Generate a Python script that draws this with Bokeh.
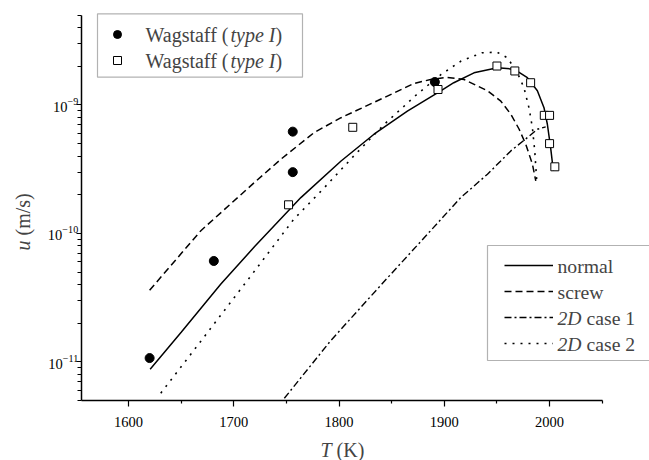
import math
from bokeh.plotting import figure
from bokeh.models import (Range1d, FixedTicker, Legend, LegendItem, Label,
                          BoxAnnotation)
from bokeh.core.properties import value
from bokeh.embed import file_html
from bokeh.resources import INLINE

# ---------------- data ----------------
# Wagstaff measurements (filled circles)
wag1_T = [1620, 1681, 1756, 1756, 1891]
wag1_u = [1.07e-11, 6.1e-11, 6.2e-10, 3.0e-10, 1.51e-9]
# Wagstaff measurements (open squares)
wag2_T = [1752, 1813, 1894, 1950, 1967, 1982, 1995, 2000, 2000, 2005]
wag2_u = [1.67e-10, 6.7e-10, 1.32e-9, 2.01e-9, 1.84e-9, 1.49e-9, 8.3e-10, 8.3e-10, 5.0e-10, 3.3e-10]

normal_T = [1620.5, 1650, 1687.7, 1720, 1763.7, 1801.9, 1833.2, 1864.9, 1896.6, 1909,
            1928.2, 1950.4, 1966.2, 1978.9, 1988.4, 1994.7, 1997.9, 2001, 2003.6]
normal_u = [8.77e-12, 1.70e-11, 4.03e-11, 7.94e-11, 1.90e-10, 3.66e-10, 5.92e-10, 8.97e-10,
            1.29e-9, 1.49e-9, 1.78e-9, 1.95e-9, 1.90e-9, 1.63e-9, 1.29e-9, 9.53e-10,
            7.08e-10, 4.66e-10, 3.06e-10]

screw_T = [1620, 1668.7, 1719.3, 1744.7, 1776.3, 1801.9, 1849.4, 1871.2, 1887, 1903, 1918.7,
           1941, 1953.7, 1963.2, 1971.1, 1977.4, 1983.7, 1986.9]
screw_u = [3.61e-11, 1.05e-10, 2.48e-10, 3.78e-10, 6.10e-10, 7.96e-10, 1.21e-9, 1.47e-9,
           1.58e-9, 1.64e-9, 1.58e-9, 1.29e-9, 1.07e-9, 8.47e-10, 6.47e-10, 4.94e-10,
           3.46e-10, 2.56e-10]

case1_T = [1748, 1792, 1840, 1887, 1915.6, 1941, 1963.2, 1978.9, 1988.4, 1996.3]
case1_u = [5.2e-12, 1.46e-11, 3.98e-11, 1.05e-10, 1.90e-10, 2.89e-10, 4.39e-10, 5.57e-10,
           6.47e-10, 6.75e-10]

case2_T = [1630.6, 1660, 1690, 1720, 1757, 1786, 1814, 1843, 1874, 1897, 1916, 1936, 1950,
           1960, 1969.4, 1975.7, 1980.4, 1983.7, 1985.9, 1987.8]
case2_u = [5.70e-12, 1.17e-11, 2.45e-11, 5.13e-11, 1.29e-10, 2.27e-10, 4.01e-10, 7.08e-10,
           1.21e-9, 1.73e-9, 2.20e-9, 2.55e-9, 2.58e-9, 2.33e-9, 1.78e-9, 1.36e-9,
           9.53e-10, 6.65e-10, 4.39e-10, 2.56e-10]

x_major = [1600, 1700, 1800, 1900, 2000]
x_minor = [1650, 1750, 1850, 1950, 2050]
y_major = [1e-11, 1e-10, 1e-9]
y_minor = [5e-12, 6e-12, 7e-12, 8e-12, 9e-12,
           2e-11, 3e-11, 4e-11, 5e-11, 6e-11, 7e-11, 8e-11, 9e-11,
           2e-10, 3e-10, 4e-10, 5e-10, 6e-10, 7e-10, 8e-10, 9e-10,
           2e-9, 3e-9, 4e-9, 5e-9]

x_axis_span = (1555, 2050)
y_axis_span = (5e-12, 5e-9)

legend1_label = ["Wagstaff (", "type I", ")"]
legend2_labels = ["normal", "screw", "case 1", "case 2"]
x_title = ["T", "(K)"]
y_title = ["u", "(m/s)"]

SERIF = "Liberation Serif"

# ---------------- layout (pixels) ----------------
W, H = 649, 460
AX_LEFT, AX_RIGHT = 80.7, 601.7      # pixel x of axis span ends
AX_BOTTOM, AX_TOP = 400.0, 14.7      # pixel y of axis span ends (from top)

kx = (AX_RIGHT - AX_LEFT) / (x_axis_span[1] - x_axis_span[0])
x_start = x_axis_span[0] - AX_LEFT / kx
x_end = x_axis_span[1] + (W - AX_RIGHT) / kx
ly0, ly1 = math.log10(y_axis_span[0]), math.log10(y_axis_span[1])
ky = (AX_BOTTOM - AX_TOP) / (ly1 - ly0)
y_start = 10 ** (ly0 - (H - AX_BOTTOM) / ky)
y_end = 10 ** (ly1 + AX_TOP / ky)

p = figure(width=W, height=H, output_backend="svg", toolbar_location=None,
           y_axis_type="log", x_range=Range1d(x_start, x_end), y_range=Range1d(y_start, y_end),
           min_border=0, title=None)
p.outline_line_color = None
p.xgrid.visible = False
p.ygrid.visible = False
p.background_fill_color = "white"
p.border_fill_color = "white"

p.xaxis.fixed_location = y_axis_span[0]
p.yaxis.fixed_location = x_axis_span[0]
p.xaxis.bounds = x_axis_span
p.yaxis.bounds = y_axis_span
p.xaxis.ticker = FixedTicker(ticks=x_major, minor_ticks=x_minor)
p.yaxis.ticker = FixedTicker(ticks=y_major, minor_ticks=y_minor)
for ax in (p.xaxis[0], p.yaxis[0]):
    ax.axis_line_color = "black"
    ax.axis_line_width = 1.5
    ax.major_tick_line_color = "black"
    ax.minor_tick_line_color = "black"
    ax.major_tick_line_width = 1.2
    ax.minor_tick_line_width = 1.2
    ax.major_tick_in = 0
    ax.minor_tick_in = 0
    ax.major_label_text_font = SERIF
    ax.major_label_text_font_size = "14.5px"
    ax.major_label_text_color = "black"
p.xaxis.major_tick_out = 6
p.xaxis.minor_tick_out = 3
p.yaxis.major_tick_out = 5
p.yaxis.minor_tick_out = 4
p.xaxis.major_label_standoff = 10
p.yaxis.major_label_standoff = -2

# curves
r_normal = p.line(normal_T, normal_u, line_color="black", line_width=1.5)
r_screw = p.line(screw_T, screw_u, line_color="black", line_width=1.5, line_dash="7 4")
r_case1 = p.line(case1_T, case1_u, line_color="black", line_width=1.4, line_dash="7 3 2 3")
r_case2 = p.line(case2_T, case2_u, line_color="black", line_width=1.6, line_dash="2 6")

# points
r_w1 = p.scatter(wag1_T, wag1_u, marker="circle", size=9, fill_color="black", line_color="black")
r_w2 = p.scatter(wag2_T, wag2_u, marker="square", size=8, fill_color="white",
                 line_color="black", line_width=1)

# ---------------- legend 1 ----------------
box1 = BoxAnnotation(left=97, right=302, top=H - 13.3, bottom=H - 76.7,
                     left_units="screen", right_units="screen", top_units="screen",
                     bottom_units="screen", fill_alpha=0, line_color="black", line_width=1.2,
                     level="overlay")
p.add_layout(box1)
leg1 = Legend(items=[LegendItem(label=value(""), renderers=[r_w1]),
                     LegendItem(label=value(""), renderers=[r_w2])],
              location=(107, H - 34 + 13 - 52), padding=0, spacing=0, glyph_width=20,
              glyph_height=26, label_height=26, label_width=0, label_standoff=0,
              border_line_color=None, background_fill_alpha=0, margin=0)
p.add_layout(leg1, "center")

rows1 = [H - 34, H - 60]
F = 20
for yy in rows1:
    x0 = 145
    w_a = 4.248 * F
    w_b = 2.249 * F
    p.add_layout(Label(x=x0, y=yy, x_units="screen", y_units="screen", text=legend1_label[0],
                       text_font=SERIF, text_font_size=f"{F}px", text_baseline="middle"))
    p.add_layout(Label(x=x0 + w_a, y=yy, x_units="screen", y_units="screen", text=legend1_label[1],
                       text_font=SERIF, text_font_size=f"{F}px", text_font_style="italic",
                       text_baseline="middle"))
    p.add_layout(Label(x=x0 + w_a + w_b, y=yy, x_units="screen", y_units="screen",
                       text=legend1_label[2], text_font=SERIF, text_font_size=f"{F}px",
                       text_baseline="middle"))

# ---------------- legend 2 ----------------
box2 = BoxAnnotation(left=487, right=W + 10, top=H - 245, bottom=H - 360,
                     left_units="screen", right_units="screen", top_units="screen",
                     bottom_units="screen", fill_alpha=0, line_color="black", line_width=1.2,
                     level="overlay")
p.add_layout(box2)
leg2 = Legend(items=[LegendItem(label=value(""), renderers=[r]) for r in
                     (r_normal, r_screw, r_case1, r_case2)],
              location=(504, H - 265 + 13 - 104), padding=0, spacing=0, glyph_width=49,
              glyph_height=26, label_height=26, label_width=0, label_standoff=0,
              border_line_color=None, background_fill_alpha=0, margin=0)
p.add_layout(leg2, "center")

rows2 = [H - 265, H - 291, H - 317, H - 343]
F2 = 19.7
for i, yy in enumerate(rows2):
    x0 = 557
    if i < 2:
        p.add_layout(Label(x=x0, y=yy, x_units="screen", y_units="screen", text=legend2_labels[i],
                           text_font=SERIF, text_font_size=f"{F2}px", text_baseline="middle"))
    else:
        p.add_layout(Label(x=x0, y=yy, x_units="screen", y_units="screen", text="2D",
                           text_font=SERIF, text_font_size=f"{F2}px", text_font_style="italic",
                           text_baseline="middle"))
        p.add_layout(Label(x=x0 + 1.222 * F2 + 0.25 * F2, y=yy, x_units="screen",
                           y_units="screen", text=legend2_labels[i],
                           text_font=SERIF, text_font_size=f"{F2}px", text_baseline="middle"))

# ---------------- axis titles ----------------
FA = 20
p.add_layout(Label(x=320, y=H - 449, x_units="screen", y_units="screen", text=x_title[0],
                   text_font=SERIF, text_font_size=f"{FA}px", text_font_style="italic",
                   text_baseline="middle"))
p.add_layout(Label(x=320 + (0.556 + 0.25) * FA, y=H - 449, x_units="screen", y_units="screen",
                   text=x_title[1], text_font=SERIF, text_font_size=f"{FA}px",
                   text_baseline="middle"))
p.add_layout(Label(x=22, y=H - 250, x_units="screen", y_units="screen", text=y_title[0],
                   text_font=SERIF, text_font_size=f"{FA}px", text_font_style="italic",
                   text_baseline="middle", angle=math.pi / 2))
p.add_layout(Label(x=22, y=H - 250 + 0.75 * FA, x_units="screen", y_units="screen",
                   text=y_title[1], text_font=SERIF, text_font_size=f"{FA}px",
                   text_baseline="middle", angle=math.pi / 2))

open("out.html", "w").write(file_html(p, INLINE))
